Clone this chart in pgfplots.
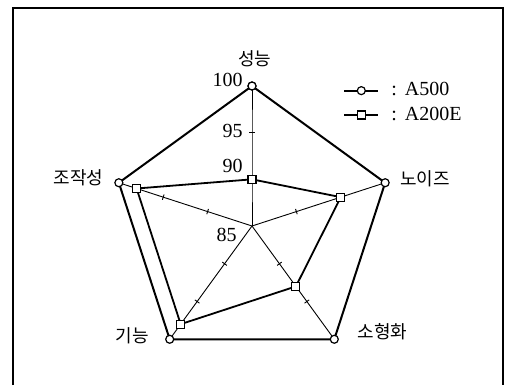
\documentclass[border=0pt]{standalone}
\usepackage{fontspec}
\setmainfont{Liberation Serif}
\newfontfamily\kr{Noto Sans CJK KR}
\usepackage{pgfplots}
\usepackage{pgfplotstable}
\pgfplotsset{compat=1.18}
\usepgfplotslibrary{polar}

% angle (deg) / score; the centre of the chart is 85
\pgfplotstableread{
ang val
90  100
18  100
306 100
234 100
162 100
90  100
}\aFive
\pgfplotstableread{
ang val
90  90
18  95
306 93
234 98
162 98
90  90
}\aTwo

\begin{document}
\begin{tikzpicture}
\begin{polaraxis}[
    hide axis,
    scale only axis,
    width=140pt, height=140pt,
    ymin=0, ymax=15,
    clip=false,
    legend style={draw=none, fill=none, font=\fontsize{10}{12.5}\selectfont,
        at={(axis cs:53.6,16.4)}, anchor=west, inner sep=0pt,
        row sep=0pt},
    legend cell align=left,
]
% spokes with ticks at 90 and 95
\foreach \a in {90,18,306,234,162}{
  \edef\tmp{\noexpand\addplot[forget plot, line width=0.45pt, mark=|, mark size=1.4pt,
      mark indices={2,3}, mark options={rotate=\a}]
      coordinates {(\a,0) (\a,5) (\a,10) (\a,15)};}
  \tmp
}
\addplot[line width=1pt, mark=*, mark size=2pt,
    mark options={fill=white, line width=0.6pt}]
    table[x=ang, y expr=\thisrow{val}-85] {\aFive};
\addlegendentry{\hspace{4pt}:\hspace{4pt}A500}
\addplot[line width=0.9pt, mark=square*, mark size=2pt,
    mark options={fill=white, line width=0.6pt}]
    table[x=ang, y expr=\thisrow{val}-85] {\aTwo};
\addlegendentry{\hspace{4pt}:\hspace{4pt}A200E}

\coordinate (O) at (axis cs:0,0);

% category names
\node[font=\kr\fontsize{9}{10}\selectfont] at (axis cs:89,17.9) {성능};
\node[font=\kr\fontsize{9}{10}\selectfont] at (axis cs:15.3,19.2) {노이즈};
\node[font=\kr\fontsize{9}{10}\selectfont] at (axis cs:321,18.0) {소형화};
\node[font=\kr\fontsize{9}{10}\selectfont] at (axis cs:222.5,17.4) {기능};
\node[font=\kr\fontsize{9}{10}\selectfont] at (axis cs:164.5,19.3) {조작성};

% scale numbers
\node[anchor=east, inner sep=0pt, font=\fontsize{10}{12}\selectfont] at (axis cs:93.5,15.7) {100};
\node[anchor=east, inner sep=0pt, font=\fontsize{10}{12}\selectfont] at (axis cs:95.4,10.27) {95};
\node[anchor=east, inner sep=0pt, font=\fontsize{10}{12}\selectfont] at (axis cs:98.5,6.55) {90};
\node[anchor=east, inner sep=0pt, font=\fontsize{10}{12}\selectfont] at (axis cs:209.5,1.85) {85};
\end{polaraxis}

% frame (open at the bottom)
\draw[line width=0.8pt] ([shift={(-119.5pt,-79.5pt)}]O) -- ++(0,188.5pt) -- ++(245pt,0) -- ++(0,-188.5pt);

\pgfresetboundingbox
\useasboundingbox ([shift={(-126pt,-79.5pt)}]O) rectangle ([shift={(127pt,113pt)}]O);
\end{tikzpicture}
\end{document}
